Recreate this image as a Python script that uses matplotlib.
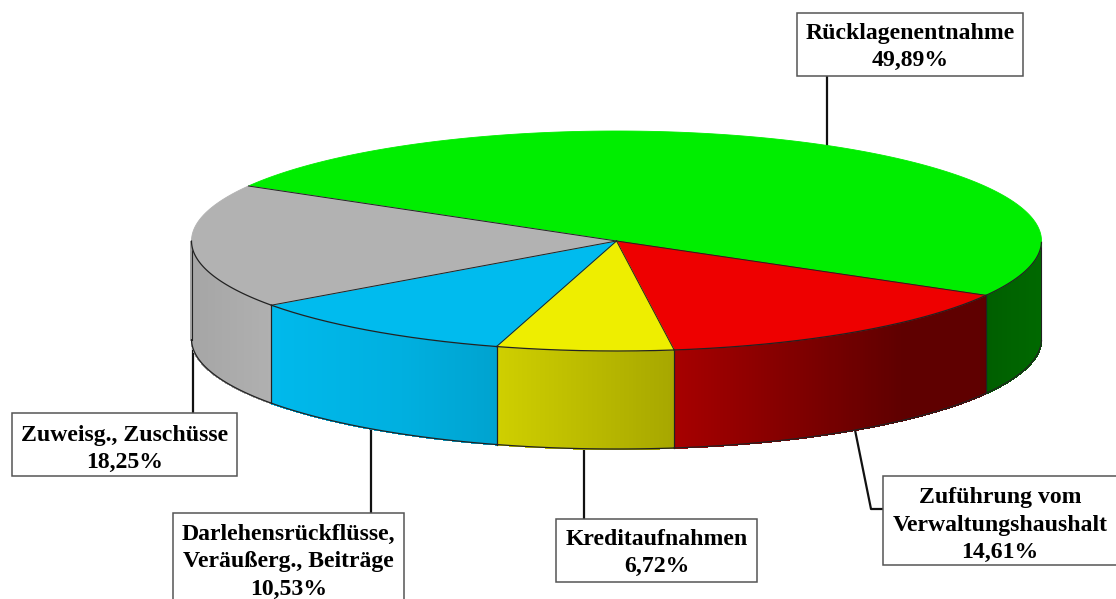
import numpy as np
import matplotlib
matplotlib.use('Agg')
import matplotlib.pyplot as plt
from matplotlib.patches import Polygon, Rectangle

# clockwise from the green/grey edge
values = [49.89, 14.61, 6.72, 10.53, 18.25]
labels = ['Rücklagenentnahme\n49,89%',
          'Zuführung vom\nVerwaltungshaushalt\n14,61%',
          'Kreditaufnahmen\n6,72%',
          'Darlehensrückflüsse,\nVeräußerg., Beiträge\n10,53%',
          'Zuweisg., Zuschüsse\n18,25%']
colors = np.array([[0, 238, 0], [238, 0, 0], [238, 238, 0], [0, 187, 238], [178, 178, 178]]) / 255

start_angle = 150.0
cx, cy, rx, ry, depth = 616.5, 241, 425, 110, 98

# side shading by x pixel
shade_x = [192, 271, 400, 497, 675, 900, 987, 1042]
shade_v = [0.93, 0.99, 0.94, 0.87, 0.70, 0.40, 0.40, 0.44]

# box: left, top, right, bottom, text centre y
boxes = [(797, 13, 1023, 76, 47),
         (883, 476, 1117, 565, 525),
         (556, 519, 757, 582, 553),
         (173, 513, 404, 603, 562),
         (12, 413, 237, 476, 449)]
leaders = [([827, 827], [76, 150]),
           ([854, 871, 883], [425, 509, 509]),
           ([584, 584], [440, 519]),
           ([371, 371], [420, 513]),
           ([192.5, 192.5], [340, 413])]


def rim(a):
    a = np.radians(a)
    return cx + rx * np.cos(a), cy - ry * np.sin(a)


fig = plt.figure(figsize=(11.16, 5.99), dpi=100)
ax = fig.add_axes([0, 0, 1, 1])
ax.set_xlim(0, 1116)
ax.set_ylim(599, 0)
ax.axis('off')

for xs, ys in leaders:
    ax.plot(xs, ys, color='#111111', lw=1.6, zorder=1, solid_joinstyle='round')

shares = np.array(values) / sum(values) * 360
edges = start_angle - np.concatenate([[0], np.cumsum(shares)])

# sides first, only the front half of the rim shows
for i in range(len(values)):
    angles = np.linspace(edges[i], edges[i + 1], 120)
    x, y = rim(angles)
    front = np.sin(np.radians(angles)) <= 0
    if front.sum() < 2:
        continue
    x, y = x[front], y[front]
    for j in range(len(x) - 1):
        c = colors[i] * np.interp((x[j] + x[j + 1]) / 2, shade_x, shade_v)
        quad = [(x[j], y[j]), (x[j + 1], y[j + 1]), (x[j + 1], y[j + 1] + depth), (x[j], y[j] + depth)]
        # no antialiasing, otherwise the strips leave dark seams
        ax.add_patch(Polygon(quad, closed=True, facecolor=c, edgecolor=c, lw=0.8, antialiased=False, zorder=2))
    ax.plot(x, y + depth, color='#222222', lw=0.9, zorder=3)
    for xe, ye in [(x[0], y[0]), (x[-1], y[-1])]:
        ax.plot([xe, xe], [ye, ye + depth], color='#222222', lw=0.8, zorder=3)

# tops, the back rim has no dark outline
for i in range(len(values)):
    angles = np.linspace(edges[i], edges[i + 1], 200)
    x, y = rim(angles)
    pts = [(cx, cy)] + list(zip(x, y))
    ax.add_patch(Polygon(pts, closed=True, facecolor=colors[i], edgecolor=colors[i], lw=0.6, zorder=4))
for i in range(len(values)):
    angles = np.linspace(edges[i], edges[i + 1], 200)
    x, y = rim(angles)
    front = np.sin(np.radians(angles)) <= 0
    if front.any():
        ax.plot(x[front], y[front], color='#222222', lw=0.9, zorder=5)
    ex, ey = rim(edges[i])
    ax.plot([cx, ex], [cy, ey], color='#222222', lw=0.7, zorder=5)

for (x0, y0, x1, y1, ty), label in zip(boxes, labels):
    ax.add_patch(Rectangle((x0, y0), x1 - x0, y1 - y0, facecolor='white', edgecolor='#555555', lw=1.1, zorder=6))
    ax.text((x0 + x1) / 2, ty, label, ha='center', va='center', family='Liberation Serif',
            fontweight='bold', fontsize=17.1, linespacing=1.41, color='#000000', zorder=7)

fig.savefig('out.png', dpi=100)
